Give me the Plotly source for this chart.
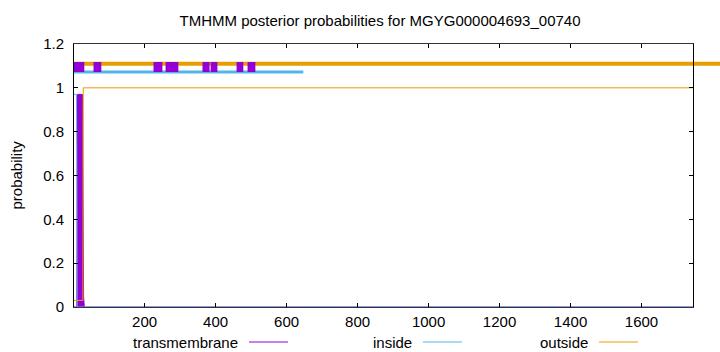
import plotly.graph_objects as go

# ---- data ----
x_range = [1, 1745]
y_range = [0, 1.2]

# posterior probabilities
tm_x = [1, 9, 11, 25, 28, 30, 1745]
tm_y = [0.0, 0.0, 0.97, 0.97, 0.05, 0.0, 0.0]

inside_x = [1, 8, 10, 1745]
inside_y = [0.97, 0.97, 0.0, 0.0]

outside_x = [1, 26, 27, 1745]
outside_y = [0.03, 0.03, 1.0, 1.0]

# topology summary at the top
tm_segments = [(1, 30), (56, 78), (225, 250), (259, 295), (363, 383),
               (386, 405), (459, 478), (490, 512)]
inside_segment = (1, 647)
outside_level = 1.11
inside_level = 1.072
tm_level = 1.095

x_ticks = [200, 400, 600, 800, 1000, 1200, 1400, 1600]
y_ticks = [0, 0.2, 0.4, 0.6, 0.8, 1.0, 1.2]
y_tick_labels = ["0", "0.2", "0.4", "0.6", "0.8", "1", "1.2"]

title = "TMHMM posterior probabilities for MGYG000004693_00740"
legend_names = ["transmembrane", "inside", "outside"]

PURPLE = "#9400d3"
BLUE = "#56b4e9"
ORANGE = "#e69f00"
FONT = "Liberation Sans, Arial, sans-serif"

fig = go.Figure()

# probability curves
fig.add_trace(go.Scatter(x=tm_x, y=tm_y, mode="lines", fill="tozeroy",
                         line=dict(color=PURPLE, width=1), fillcolor=PURPLE,
                         hoverinfo="skip", showlegend=False))
fig.add_trace(go.Scatter(x=inside_x, y=inside_y, mode="lines",
                         line=dict(color=BLUE, width=1),
                         hoverinfo="skip", showlegend=False))
fig.add_trace(go.Scatter(x=outside_x, y=outside_y, mode="lines",
                         line=dict(color=ORANGE, width=1),
                         hoverinfo="skip", showlegend=False))

# topology: inside bar
fig.add_trace(go.Scatter(x=list(inside_segment), y=[inside_level, inside_level],
                         mode="lines", line=dict(color=BLUE, width=3),
                         hoverinfo="skip", showlegend=False))

# topology: outside bar (runs past the right border) -- drawn as a paper-ref shape
span = x_range[1] - x_range[0]
fig.add_shape(type="line", xref="paper", yref="paper",
              x0=(x_range[0] - x_range[0]) / span, x1=1.06,
              y0=outside_level / y_range[1], y1=outside_level / y_range[1],
              line=dict(color=ORANGE, width=4), layer="below")

# topology: TM boxes
bx, by = [], []
for a, b in tm_segments:
    bx += [a, b, None]
    by += [tm_level, tm_level, None]
fig.add_trace(go.Scatter(x=bx, y=by, mode="lines",
                         line=dict(color=PURPLE, width=10),
                         hoverinfo="skip", showlegend=False))

L, R, T, B = 74, 27, 44, 45
W, H = 720, 352
pw, ph = W - L - R, H - T - B

def px_to_paper_x(px):
    return (px - L) / pw

def px_to_paper_y(py):
    return (H - B - py) / ph

# manual gnuplot-style legend (text then sample line)
leg_text_right = [240, 414, 590]
leg_line = [(249, 288), (423, 462), (599, 638)]
leg_colors = [PURPLE, BLUE, ORANGE]
leg_y = 342
for name, tr, (l0, l1), c in zip(legend_names, leg_text_right, leg_line, leg_colors):
    fig.add_annotation(text=name, xref="paper", yref="paper",
                       x=px_to_paper_x(tr), y=px_to_paper_y(leg_y),
                       xanchor="right", yanchor="middle", showarrow=False,
                       font=dict(family=FONT, size=15, color="black"))
    fig.add_shape(type="line", xref="paper", yref="paper",
                  x0=px_to_paper_x(l0), x1=px_to_paper_x(l1),
                  y0=px_to_paper_y(leg_y), y1=px_to_paper_y(leg_y),
                  line=dict(color=c, width=1))

# y axis title
fig.add_annotation(text="probability", xref="paper", yref="paper",
                   x=px_to_paper_x(16), y=0.5, textangle=-90,
                   xanchor="center", yanchor="middle", showarrow=False,
                   font=dict(family=FONT, size=15, color="black"))

fig.update_layout(
    width=W, height=H,
    margin=dict(l=L, r=R, t=T, b=B, pad=0),
    paper_bgcolor="white", plot_bgcolor="white",
    showlegend=False,
    title=dict(text=title, x=380 / W, xanchor="center", xref="container",
               y=1 - 21 / H, yanchor="middle", yref="container",
               font=dict(family=FONT, size=15, color="black")),
    font=dict(family=FONT, size=15, color="black"),
)
fig.update_xaxes(range=x_range, tickvals=x_ticks, showgrid=False, zeroline=False,
                 showline=True, linecolor="#333333", linewidth=1, mirror="ticks",
                 ticks="inside", ticklen=4, tickcolor="black",
                 ticklabelstandoff=1, tickfont=dict(family=FONT, size=15, color="black"))
fig.update_yaxes(range=y_range, tickvals=y_ticks, ticktext=y_tick_labels,
                 showgrid=False, zeroline=False,
                 showline=True, linecolor="black", linewidth=1, mirror="ticks",
                 ticks="inside", ticklen=4, tickcolor="black",
                 ticklabelstandoff=6, tickfont=dict(family=FONT, size=15, color="black"))

fig.write_html("out.html")
